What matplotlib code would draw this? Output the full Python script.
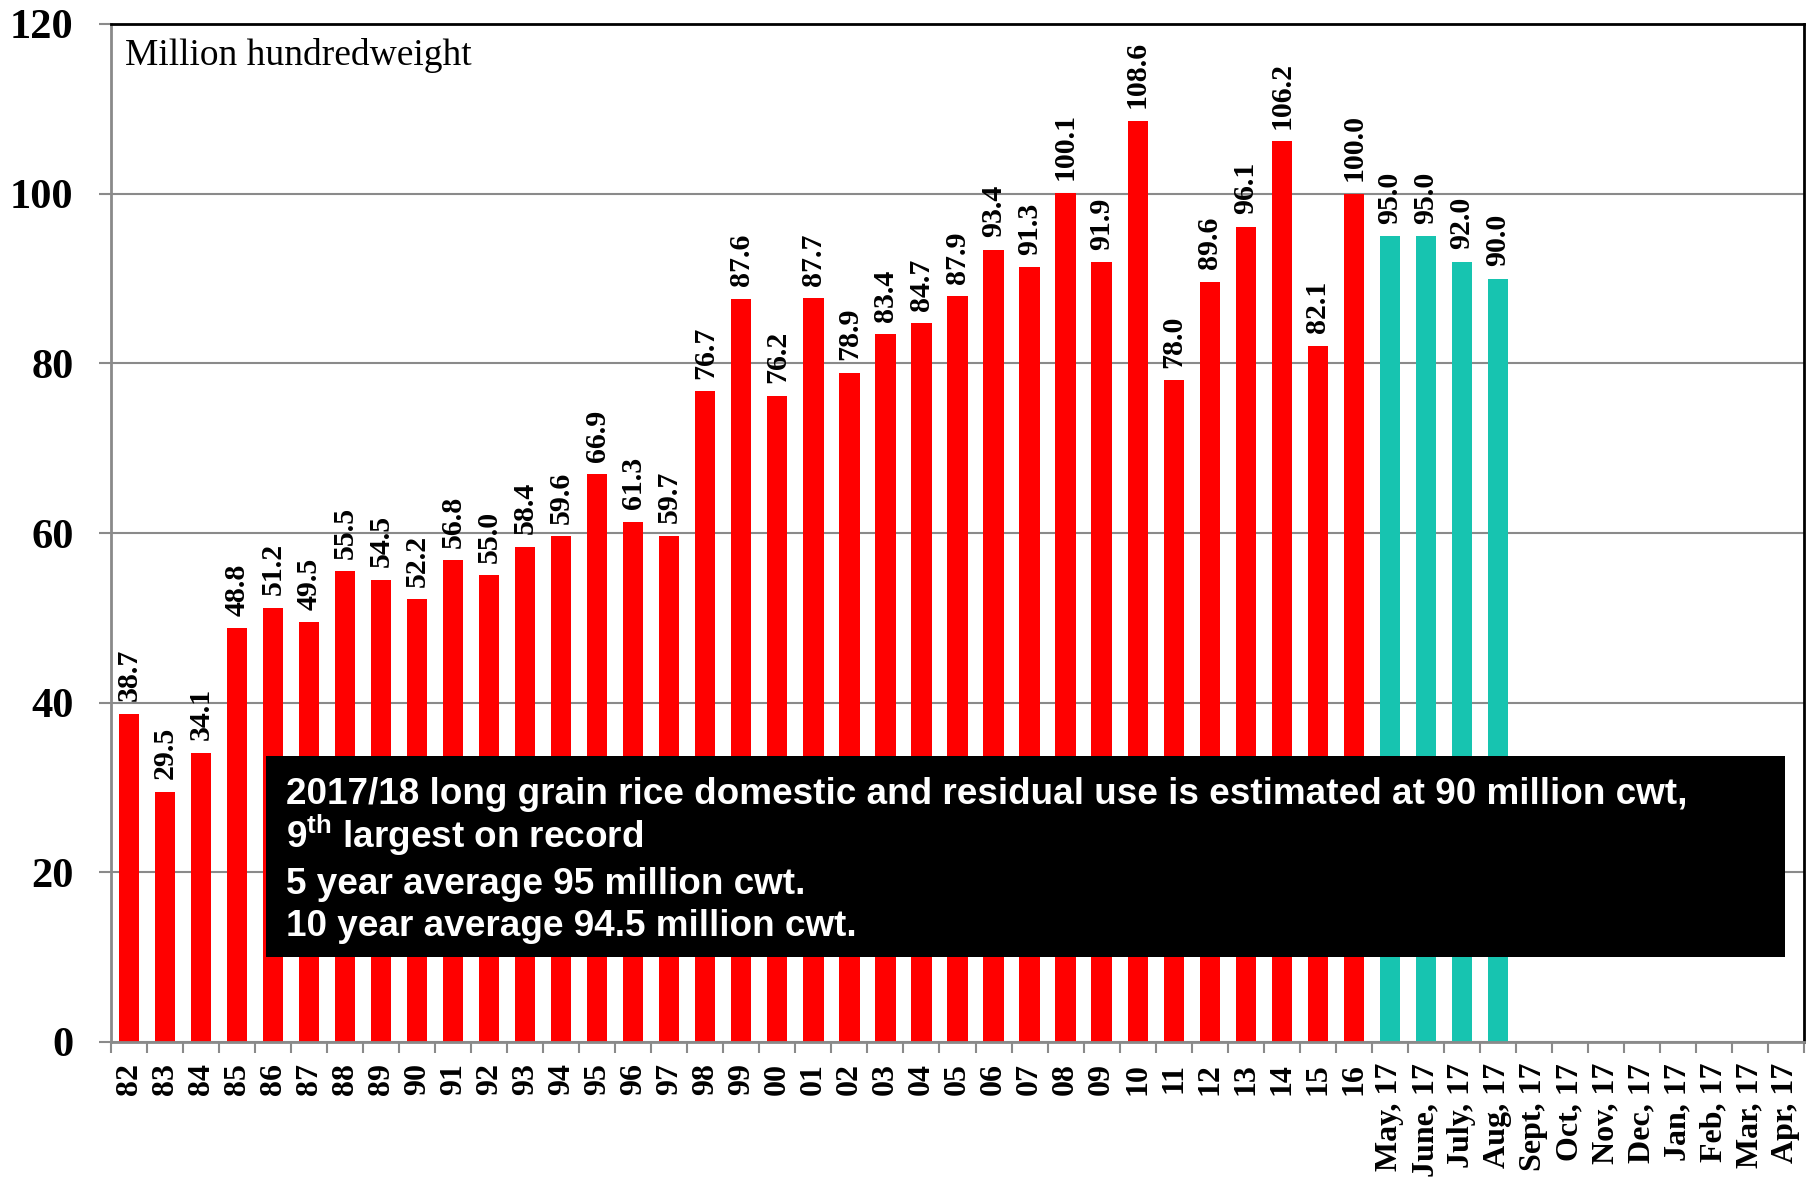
import matplotlib
matplotlib.use("Agg")
import matplotlib.pyplot as plt
from matplotlib.patches import Rectangle
import numpy as np

# annual long grain domestic & residual use (million cwt)
years = ["82", "83", "84", "85", "86", "87", "88", "89", "90", "91", "92", "93",
         "94", "95", "96", "97", "98", "99", "00", "01", "02", "03", "04", "05",
         "06", "07", "08", "09", "10", "11", "12", "13", "14", "15", "16"]
year_values = [38.7, 29.5, 34.1, 48.8, 51.2, 49.5, 55.5, 54.5, 52.2, 56.8, 55.0, 58.4,
               59.6, 66.9, 61.3, 59.7, 76.7, 87.6, 76.2, 87.7, 78.9, 83.4, 84.7, 87.9,
               93.4, 91.3, 100.1, 91.9, 108.6, 78.0, 89.6, 96.1, 106.2, 82.1, 100.0]

# 2017/18 monthly estimates
months = ["May, 17", "June, 17", "July, 17", "Aug, 17", "Sept, 17", "Oct, 17",
          "Nov, 17", "Dec, 17", "Jan, 17", "Feb, 17", "Mar, 17", "Apr, 17"]
month_values = [95.0, 95.0, 92.0, 90.0]

box_lines = [
    "2017/18 long grain rice domestic and residual use is estimated at 90 million cwt,",
    r"9${}^{\mathrm{th}}$ largest on record",
    "5 year average 95 million cwt.",
    "10 year average 94.5 million cwt.",
]

RED = "#FF0000"
TEAL = "#17C4B0"
GRID = "#8A8A8A"

plt.rcParams["mathtext.fontset"] = "custom"
plt.rcParams["mathtext.rm"] = "Liberation Sans:bold"
plt.rcParams["mathtext.bf"] = "Liberation Sans:bold"

fig = plt.figure(figsize=(18.2, 11.93), dpi=100)
ax = fig.add_axes([111 / 1820, 151 / 1193, 1693 / 1820, 1018 / 1193])

labels = years + months
x_year = np.arange(len(years))
x_month = np.arange(len(years), len(years) + len(month_values))
width = 0.56

ax.bar(x_year, year_values, width=width, color=RED, zorder=2)
ax.bar(x_month, month_values, width=width, color=TEAL, zorder=2)

serif_bold = dict(family="Liberation Serif", weight="bold")
for xs, vals in [(x_year, year_values), (x_month, month_values)]:
    for x, v in zip(xs, vals):
        ax.annotate(f"{v:.1f}", (x, v), xytext=(0, 9), textcoords="offset points",
                    rotation=90, ha="center", va="bottom", fontsize=21.5, **serif_bold)

ax.set_xlim(-0.5, len(labels) - 0.5)
ax.set_ylim(0, 120)
ax.set_yticks(np.arange(0, 121, 20))
ax.yaxis.grid(True, color=GRID, linewidth=1.5, zorder=0)
ax.set_axisbelow(True)

ax.set_xticks(np.arange(len(labels)))
ax.set_xticklabels(labels, rotation=90, ha="center", va="top", fontsize=23, **serif_bold)
ax.set_xticks(np.arange(len(labels) + 1) - 0.5, minor=True)
ax.tick_params(axis="x", which="major", length=0, pad=15)
ax.tick_params(axis="x", which="minor", length=8, width=1.5, color=GRID, direction="out")
ax.tick_params(axis="y", length=9, width=1.5, color=GRID, pad=18)
for t in ax.get_yticklabels():
    t.set_fontsize(30.5)
    t.set_family("Liberation Serif")
    t.set_weight("bold")

ax.spines["left"].set_color(GRID)
ax.spines["bottom"].set_color(GRID)
ax.spines["left"].set_linewidth(2)
ax.spines["bottom"].set_linewidth(2)
ax.spines["top"].set_color("black")
ax.spines["right"].set_color("black")
ax.spines["top"].set_linewidth(2)
ax.spines["right"].set_linewidth(2)

ax.text(0.0083, 0.9597, "Million hundredweight", transform=ax.transAxes,
        fontsize=27, family="Liberation Serif", va="baseline", ha="left")

# black callout box over the bars
ax.add_patch(Rectangle((0.0913, 0.0838), 0.8975, 0.1974, transform=ax.transAxes,
                       facecolor="black", edgecolor="none", zorder=5))
line_y = [0.2341, 0.1906, 0.1457, 0.1041]
for txt, y in zip(box_lines, line_y):
    ax.text(0.1032, y, txt, transform=ax.transAxes, color="white", fontsize=26.6,
            family="Liberation Sans", weight="bold", va="baseline", ha="left", zorder=6)

fig.savefig("out.png", dpi=100)
